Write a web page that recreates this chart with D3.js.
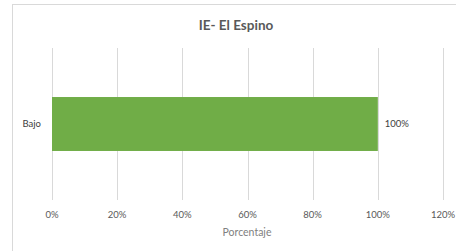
<!DOCTYPE html>
<html><head><meta charset="utf-8">
<script src="https://cdn.jsdelivr.net/npm/d3@7"></script>
<style>body{margin:0;background:#fff;}svg{display:block;font-family:Lato,"Open Sans",sans-serif;}</style>
</head><body>
<script>
const categories = ["Bajo"];
const values = [1.0];
const tickValues = [0, 0.2, 0.4, 0.6, 0.8, 1.0, 1.2];
const title = "IE- El Espino";
const axisTitle = "Porcentaje";

const W = 456, H = 251;
const svg = d3.select("body").append("svg").attr("width", W).attr("height", H);
svg.append("rect").attr("x", 12.5).attr("y", 4.5).attr("width", 460).attr("height", 260)
  .attr("fill", "#fff").attr("stroke", "#d9d9d9");

const x = d3.scaleLinear().domain([0, 1.2]).range([52, 443]);
const y = d3.scaleBand().domain(categories).range([48, 200]).paddingInner(0.3).paddingOuter(0.636);

svg.append("g").selectAll("line").data(tickValues).join("line")
  .attr("x1", d => Math.round(x(d)) + 0.5).attr("x2", d => Math.round(x(d)) + 0.5)
  .attr("y1", 48).attr("y2", 200).attr("stroke", "#d9d9d9").attr("stroke-width", 1);

svg.append("g").selectAll("rect").data(values).join("rect")
  .attr("x", x(0)).attr("y", (d, i) => y(categories[i]))
  .attr("width", d => x(d) - x(0)).attr("height", y.bandwidth())
  .attr("fill", "#70ad47");

svg.append("g").selectAll("text").data(values).join("text")
  .attr("x", d => x(d) + 7).attr("y", (d, i) => y(categories[i]) + y.bandwidth() / 2)
  .attr("dy", "0.35em").attr("font-size", 9.5).attr("fill", "#404040")
  .text(d => d3.format(".0%")(d));

svg.append("g").selectAll("text").data(categories).join("text")
  .attr("x", 41).attr("y", d => y(d) + y.bandwidth() / 2).attr("dy", "0.35em")
  .attr("text-anchor", "end").attr("font-size", 9.5).attr("fill", "#404040").text(d => d);

svg.append("g").selectAll("text").data(tickValues).join("text")
  .attr("x", d => x(d)).attr("y", 215).attr("dy", "0.35em").attr("text-anchor", "middle")
  .attr("font-size", 9.5).attr("fill", "#595959").text(d => d3.format(".0%")(d));

svg.append("text").attr("x", 247).attr("y", 232).attr("dy", "0.35em").attr("text-anchor", "middle")
  .attr("font-size", 10.5).attr("fill", "#7f7f7f").text(axisTitle);

svg.append("text").attr("x", 236).attr("y", 25).attr("dy", "0.35em").attr("text-anchor", "middle")
  .attr("font-size", 13.5).attr("font-weight", "bold").attr("fill", "#595959").text(title);
</script>
</body></html>
